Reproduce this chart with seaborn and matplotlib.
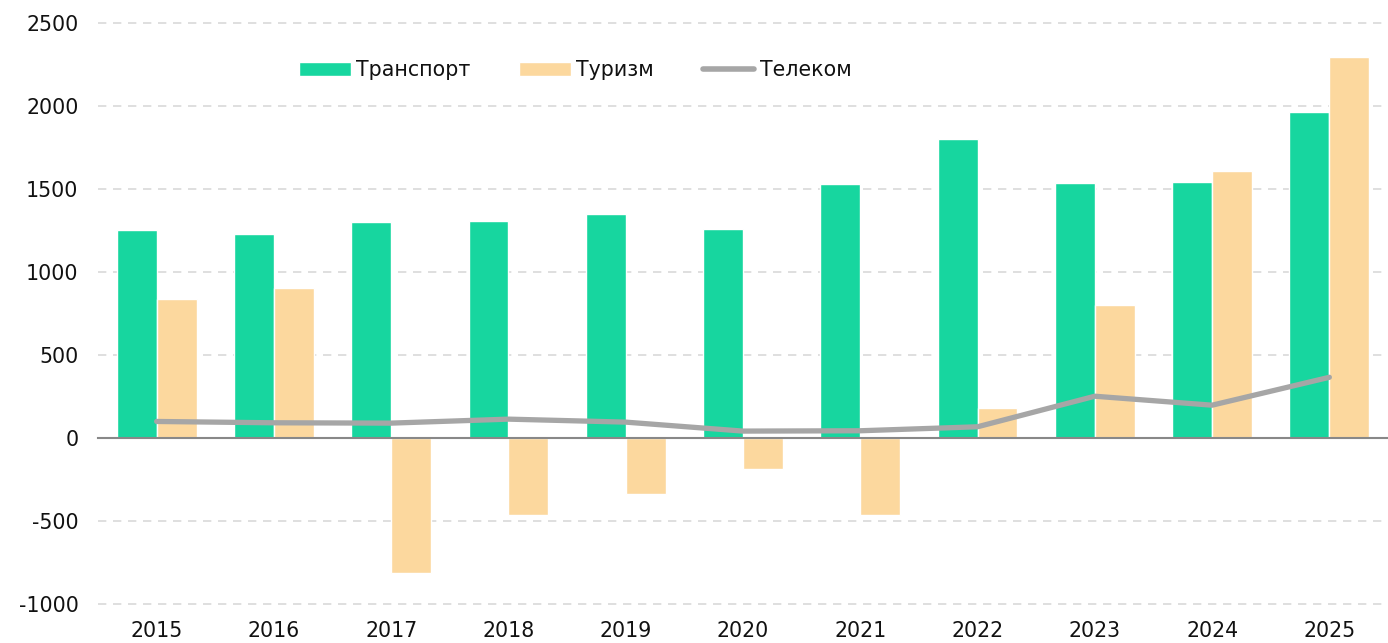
import numpy as np
import pandas as pd
import matplotlib
matplotlib.use("Agg")
import matplotlib.pyplot as plt
import seaborn as sns
from matplotlib.ticker import MultipleLocator, FixedLocator
from matplotlib.patches import Patch
from matplotlib.lines import Line2D

years = ["2015", "2016", "2017", "2018", "2019", "2020", "2021", "2022", "2023", "2024", "2025"]
transport = [1250, 1230, 1300, 1305, 1350, 1260, 1530, 1800, 1535, 1540, 1965]
tourism = [835, 905, -810, -462, -336, -186, -462, 180, 803, 1610, 2295]
telecom = [100, 92, 90, 114, 96, 42, 44, 68, 252, 198, 366]

series_names = ["Транспорт", "Туризм", "Телеком"]
colors = {"Транспорт": "#17D69F", "Туризм": "#FCD89E", "Телеком": "#A6A6A6"}

df = pd.DataFrame({
    "year": years * 2,
    "value": transport + tourism,
    "series": [series_names[0]] * len(years) + [series_names[1]] * len(years),
})

sns.set_theme(style="white")
plt.rcParams["font.family"] = ["DejaVu Sans"]
plt.rcParams["axes.unicode_minus"] = False

FS = 14.8

fig = plt.figure(figsize=(13.88, 6.43), dpi=100)
ax = fig.add_axes([98 / 1388, 1 - 605 / 643, 1 - 98 / 1388, (605 - 22) / 643])

sns.barplot(data=df, x="year", y="value", hue="series", order=years,
            hue_order=series_names[:2], palette=colors, width=0.68, gap=0,
            saturation=1, errorbar=None, ax=ax, legend=False, zorder=3)

sns.lineplot(x=np.arange(len(years)), y=telecom, color=colors["Телеком"],
             linewidth=3.8, ax=ax, zorder=4, label=None, solid_capstyle="round")

ax.set_xlim(-0.5, len(years) - 0.5)
ax.set_ylim(-1005, 2505)
ax.yaxis.set_major_locator(MultipleLocator(500))
ax.grid(axis="y", color="#D9D9D9", linestyle=(0, (5, 4)), linewidth=1.2, zorder=0)
ax.grid(axis="x", visible=False)
ax.set_axisbelow(True)

for s in ["left", "right", "top"]:
    ax.spines[s].set_visible(False)
ax.spines["bottom"].set_position(("data", 0))
ax.spines["bottom"].set_color("#888888")
ax.spines["bottom"].set_linewidth(1.5)
ax.spines["bottom"].set_zorder(5)

ax.xaxis.set_minor_locator(FixedLocator(np.arange(-0.5, len(years), 1.0)))
ax.tick_params(axis="x", which="minor", length=6, width=1.2, color="#666666", direction="out")
ax.tick_params(axis="x", which="major", length=0, pad=132, labelsize=FS, labelcolor="#111111")
ax.tick_params(axis="y", length=0, pad=14, labelsize=FS, labelcolor="#111111")
ax.set_xlabel("")
ax.set_ylabel("")

handles = [Patch(facecolor=colors["Транспорт"]), Patch(facecolor=colors["Туризм"]),
           Line2D([0], [0], color=colors["Телеком"], linewidth=4, solid_capstyle="round")]
ax.legend(handles, series_names, loc="center", bbox_to_anchor=(0.37, 0.917), ncol=3,
          frameon=False, fontsize=FS, handlelength=2.5, handletextpad=0.25,
          columnspacing=2.4, handleheight=0.65, labelcolor="#111111")

fig.savefig("out.png", dpi=100)
